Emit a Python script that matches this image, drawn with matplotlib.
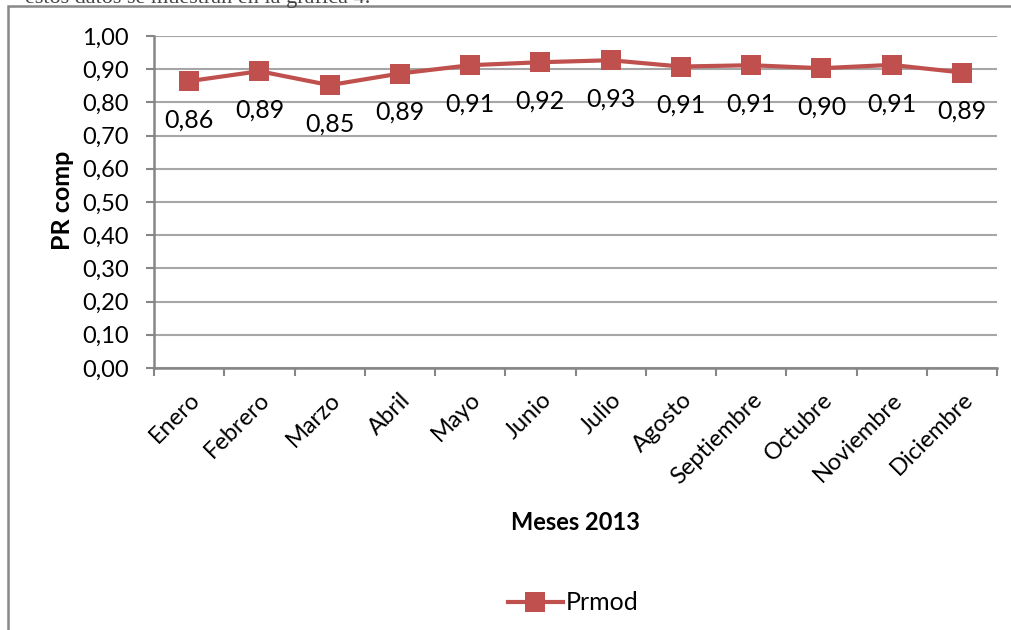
import matplotlib
matplotlib.use("Agg")
import matplotlib.pyplot as plt
from matplotlib.patches import Rectangle
import numpy as np

# Monthly data
months = ["Enero", "Febrero", "Marzo", "Abril", "Mayo", "Junio", "Julio",
          "Agosto", "Septiembre", "Octubre", "Noviembre", "Diciembre"]
prmod = [0.864, 0.894, 0.852, 0.887, 0.912, 0.921, 0.927,
         0.908, 0.912, 0.903, 0.913, 0.890]
y_ticks = [0.0, 0.1, 0.2, 0.3, 0.4, 0.5, 0.6, 0.7, 0.8, 0.9, 1.0]

W, H = 1011, 630
FONT = "Lato"
RED = "#C0504D"
GRID = "#A6A6A6"
AXIS = "#868686"

plt.rcParams["font.family"] = [FONT, "DejaVu Sans"]

fig = plt.figure(figsize=(W / 100, H / 100), dpi=100)

# Line of body text above the chart box (only its lower part is on the page)
fig.text(25 / W, 1 - 3 / H, "estos datos se muestran en la gráfica 4.",
         family="Liberation Serif", fontsize=16, color="#444444",
         ha="left", va="baseline")

# Chart outer frame
fig.patches.append(Rectangle((8 / W, -0.1), 1.2, 1 - 6 / H + 0.1,
                             transform=fig.transFigure, fill=False,
                             edgecolor="#888888", linewidth=1.8))

ax = fig.add_axes([154 / W, 1 - 368 / H, (997 - 154) / W, (368 - 36) / H])
x = np.arange(len(months))
ax.plot(x, prmod, color=RED, linewidth=3, marker="s", markersize=14,
        markeredgewidth=0, label="Prmod", zorder=3)

for xi, v in zip(x, prmod):
    ax.annotate(f"{v:.2f}".replace(".", ","), (xi, v), xytext=(0, -28),
                textcoords="offset points", ha="center", va="center",
                fontsize=18, color="black", zorder=4)

ax.set_xlim(-0.5, len(months) - 0.5)
ax.set_ylim(0, 1.0)
ax.set_yticks(y_ticks)
ax.set_yticklabels([f"{t:.2f}".replace(".", ",") for t in y_ticks], fontsize=17)
ax.yaxis.grid(True, color=GRID, linewidth=1.5)
ax.set_axisbelow(True)

ax.set_xticks(x)
ax.set_xticklabels(months, rotation=45, ha="right", va="top",
                   rotation_mode="anchor", fontsize=17)
ax.tick_params(axis="x", which="major", length=0, pad=15)
ax.set_xticks(np.arange(-0.5, len(months), 1.0), minor=True)
ax.tick_params(axis="x", which="minor", length=6, color=AXIS, width=1.5)
ax.tick_params(axis="y", length=6, color=AXIS, width=1.5, pad=12)

for side in ("top", "right"):
    ax.spines[side].set_visible(False)
for side in ("left", "bottom"):
    ax.spines[side].set_color(AXIS)
    ax.spines[side].set_linewidth(1.8)

fig.text(63 / W, 1 - 200 / H, "PR comp", rotation=90, fontsize=18,
         fontweight="bold", ha="center", va="center")
fig.text(575 / W, 1 - 523 / H, "Meses 2013", fontsize=17,
         fontweight="bold", ha="center", va="center")

fig.legend(loc="center", bbox_to_anchor=(573 / W, 1 - 603 / H), frameon=False,
           fontsize=18, handlelength=2.2, handletextpad=0.1)

fig.savefig("out.png", dpi=100)
